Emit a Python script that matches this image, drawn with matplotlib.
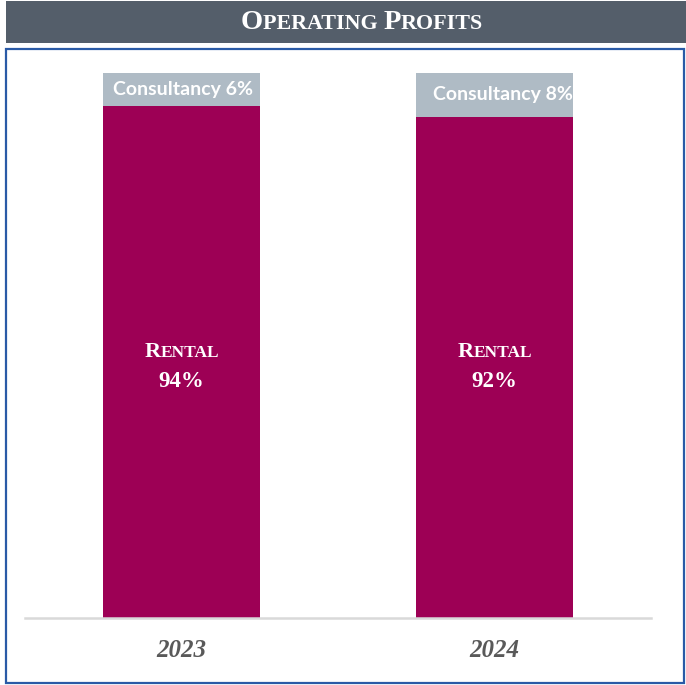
import matplotlib
matplotlib.use("Agg")
import matplotlib.pyplot as plt
from matplotlib.patches import Rectangle
from matplotlib.transforms import offset_copy

# Data
years = ["2023", "2024"]
rental = [94, 92]
consultancy = [6, 8]
title = "Operating Profits"

RENTAL_COLOR = "#9d0055"
CONSULT_COLOR = "#afbbc5"
BANNER_COLOR = "#545e6a"
BORDER_COLOR = "#2a5aa6"

W, H = 686, 685
fig = plt.figure(figsize=(W / 100, H / 100), dpi=100)
fig.patch.set_facecolor("white")


def fx(px):
    return px / W


def fy(py):
    return 1 - py / H


# Title banner and framed box
fig.add_artist(Rectangle((fx(6), fy(43)), fx(680), 42 / H, transform=fig.transFigure,
                         facecolor=BANNER_COLOR, edgecolor="none", zorder=0))
fig.add_artist(Rectangle((fx(5.5), fy(683)), fx(678.5), 634 / H, transform=fig.transFigure,
                         facecolor="none", edgecolor=BORDER_COLOR, linewidth=1.6, zorder=5))

renderer = fig.canvas.get_renderer()


def small_caps(x_px, y_px, text, big, small, family, color="white", weight="bold"):
    """Draw text in small caps centred on x_px with its baseline at y_px (pixels)."""
    runs = []
    for word_i, word in enumerate(text.split(" ")):
        if word_i > 0:
            runs.append((" ", small))
        for ch in word:
            runs.append((ch.upper(), big if (ch.isupper() or not ch.isalpha()) else small))
    merged = []
    for s, sz in runs:
        if merged and merged[-1][1] == sz:
            merged[-1] = (merged[-1][0] + s, sz)
        else:
            merged.append((s, sz))
    widths = []
    for s, sz in merged:
        t = fig.text(0, 0, s.replace(" ", "\u00a0"), fontsize=sz, family=family, weight=weight)
        widths.append(t.get_window_extent(renderer).width)
        t.remove()
    x = x_px - sum(widths) / 2
    for (s, sz), w in zip(merged, widths):
        fig.text(fx(x), fy(y_px), s.replace(" ", "\u00a0"), fontsize=sz, family=family,
                 weight=weight, color=color, ha="left", va="baseline", zorder=10)
        x += w


small_caps(362, 29, title, 20.5, 15.8, "Liberation Serif")

# Plot area
ax = fig.add_axes([fx(25), 1 - 618 / H, fx(626), (618 - 73) / H])
x = list(range(len(years)))
bars_r = ax.bar(x, rental, width=0.5, color=RENTAL_COLOR, edgecolor="none", zorder=2)
bars_c = ax.bar(x, consultancy, width=0.5, bottom=rental, color=CONSULT_COLOR,
                edgecolor="none", zorder=2)
ax.set_xlim(-0.5, 1.5)
ax.set_ylim(0, 100)
for s in ["top", "right", "left"]:
    ax.spines[s].set_visible(False)
ax.spines["bottom"].set_color("#d9d9d9")
ax.spines["bottom"].set_linewidth(1.8)
ax.set_yticks([])
ax.set_xticks(x)
ax.set_xticklabels(years, fontsize=18, family="Liberation Serif", style="italic",
                   weight="bold", color="#595959")
ax.tick_params(axis="x", length=0, pad=15)
ax.patch.set_alpha(0)

# Consultancy labels inside the top segments, clipped to the bar
label_pad_px = [10, 17]
for i, (b, r, c) in enumerate(zip(bars_c, rental, consultancy)):
    tr = offset_copy(ax.transData, fig=fig, x=label_pad_px[i], y=0, units="dots")
    t = ax.text(i - 0.25, r + c / 2, f"Consultancy {c}%", ha="left", va="center",
                fontsize=14, family="Lato", weight="bold", color="white", zorder=4,
                transform=tr)
    t.set_clip_path(b)

# Rental labels in small caps
for i, r in enumerate(rental):
    cx, _ = ax.transData.transform((i, 0))
    small_caps(cx, 357, "Rental", 16, 12.5, "Liberation Serif")
    fig.text(fx(cx), fy(387), f"{r}%", fontsize=16.5, family="Liberation Serif", weight="bold",
             color="white", ha="center", va="baseline", zorder=10)

fig.savefig("out.png", dpi=100, facecolor="white")
